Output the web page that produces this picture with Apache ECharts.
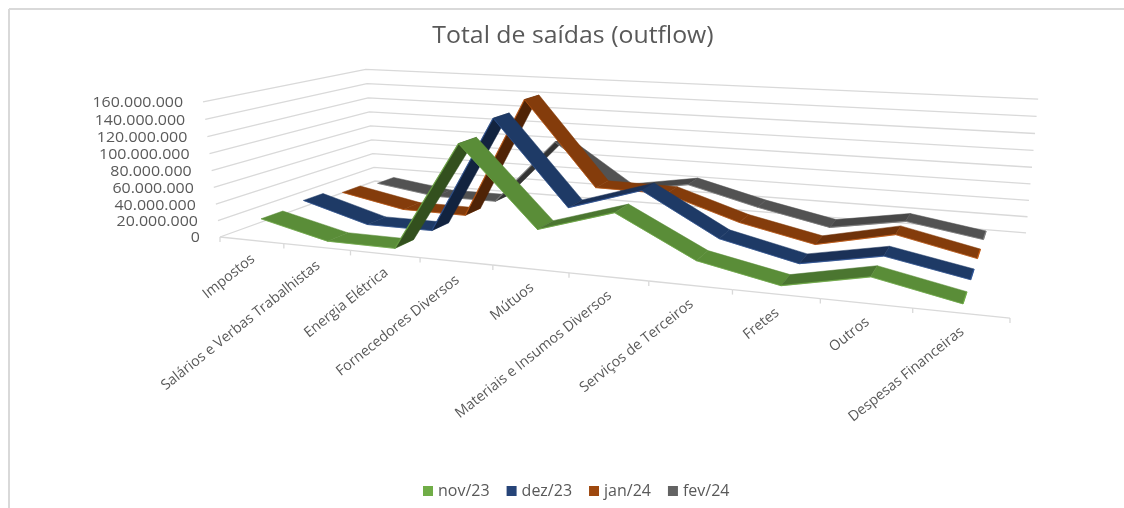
<!DOCTYPE html>
<html>
<head>
<meta charset="utf-8">
<title>Total de saídas (outflow)</title>
<style>
  html, body { margin: 0; padding: 0; background: #fff; }
  #myChart { width: 1124px; height: 508px; }
</style>
<script src="https://cdn.jsdelivr.net/npm/echarts@6/dist/echarts.min.js"></script>
</head>
<body>
<div id="myChart"></div>
<script>
  const categories = ['Impostos', 'Salários e Verbas Trabalhistas', 'Energia Elétrica', 'Fornecedores Diversos', 'Mútuos',
    'Materiais e Insumos Diversos', 'Serviços de Terceiros', 'Fretes', 'Outros', 'Despesas Financeiras']
  const months = ['nov/23', 'dez/23', 'jan/24', 'fev/24']
  const nov23 = [21000000, 1500000, 1000000, 127000000, 38600000, 64500000, 20500000, 2600000, 21000000, 2600000]
  const dez23 = [25000000, 1500000, 1500000, 142000000, 44000000, 70700000, 23000000, 3000000, 20000000, 3000000]
  const jan24 = [17500000, 1600000, 1000000, 152000000, 50000000, 49000000, 21500000, 3000000, 22600000, 3200000]
  const fev24 = [12600000, 1000000, 1000000, 86000000, 29000000, 43000000, 21000000, 3000000, 18000000, 3700000]
  const yTicks = [0, 20000000, 40000000, 60000000, 80000000, 100000000, 120000000, 140000000, 160000000]
  const yTickLabels = ['0', '20.000.000', '40.000.000', '60.000.000', '80.000.000', '100.000.000', '120.000.000', '140.000.000', '160.000.000']

  // top face, gentle rise, underside, bright edge
  const shades = [
    ['#5a8d38', '#4b7630', '#33501e', '#70ad47'],
    ['#1e3a66', '#1b3157', '#12233f', '#2f5597'],
    ['#843c0b', '#6f320a', '#4f2306', '#c55a11'],
    ['#525252', '#484848', '#333333', '#7f7f7f']
  ]
  const legendColors = ['#70ad47', '#264478', '#9e480e', '#636363']
  const textColor = '#595959'
  const lineColor = '#d9d9d9'
  const ribbonHalf = 0.062

  // 3d box to screen: u along categories, d into the page, v up
  function project(u, d, v) {
    const w = 1 - 0.2086 * u + 0.2186 * d - 0.035 * v
    return [
      (220 + 579.3 * u + 237 * d - 24.1 * v) / w,
      (237 + 14.7 * u - 16.4 * d - 138.6 * v) / w
    ]
  }

  // hidden cartesian grid gives the scales, pixels are turned back into 0..1
  function norm(params, pt) {
    const r = params.coordSys
    return [(pt[0] - r.x) / r.width, (r.y + r.height - pt[1]) / r.height]
  }

  function ribbonSeries(name, values, k) {
    const d0 = 0.125 + 0.25 * k - ribbonHalf
    const d1 = 0.125 + 0.25 * k + ribbonHalf
    const c = shades[k]
    return {
      name: name,
      type: 'custom',
      coordinateSystem: 'cartesian2d',
      z: 10 - k,
      silent: true,
      animation: false,
      itemStyle: { color: legendColors[k] },
      encode: { x: 0, y: 1 },
      data: values.map((v, i) => [i, v]),
      renderItem(params, api) {
        const i = params.dataIndex
        const a = norm(params, api.coord([i, values[i]]))
        const children = []
        if (i < values.length - 1) {
          const b = norm(params, api.coord([i + 1, values[i + 1]]))
          const p1 = project(a[0], d0, a[1])
          const p2 = project(b[0], d0, b[1])
          const p3 = project(b[0], d1, b[1])
          const p4 = project(a[0], d1, a[1])
          const slope = (p1[1] - p2[1]) / (p2[0] - p1[0])
          let fill = c[0]
          if (slope > 0.5) fill = c[2]
          else if (slope > 0.03) fill = c[1]
          children.push({
            type: 'polygon',
            shape: { points: [p1, p2, p3, p4] },
            style: { fill: fill, stroke: fill, lineWidth: 0.5 }
          })
          children.push({
            type: 'polyline',
            shape: { points: [p1, p2] },
            style: { fill: null, stroke: c[3], lineWidth: slope > 0.03 ? 1.2 : 0.8, opacity: 0.8 }
          })
        } else {
          children.push({
            type: 'polyline',
            shape: { points: [project(a[0], d0, a[1]), project(a[0], d1, a[1])] },
            style: { fill: null, stroke: c[3], lineWidth: 1.2 }
          })
        }
        return { type: 'group', children: children }
      }
    }
  }

  // gridlines on side and back walls plus the value labels
  const wallSeries = {
    type: 'custom',
    coordinateSystem: 'cartesian2d',
    z: 1,
    silent: true,
    animation: false,
    data: yTicks.map((t, i) => [0, t, i]),
    renderItem(params, api) {
      const i = params.dataIndex
      const v = norm(params, api.coord([0, yTicks[i]]))[1]
      const front = project(0, 0, v)
      return {
        type: 'group',
        children: [
          {
            type: 'polyline',
            shape: { points: [front, project(0, 1, v), project(1, 1, v)] },
            style: { fill: null, stroke: lineColor, lineWidth: 1.3 }
          },
          {
            type: 'text',
            x: front[0] - 20,
            y: front[1] + 1.5,
            scaleX: 1.14,
            style: {
              text: yTickLabels[i],
              fill: textColor,
              font: '14px "Open Sans"',
              align: 'right',
              verticalAlign: 'middle'
            }
          }
        ]
      }
    }
  }

  // front floor edge, tick marks and the slanted category labels
  const floorSeries = {
    type: 'custom',
    coordinateSystem: 'cartesian2d',
    z: 1,
    silent: true,
    animation: false,
    data: categories.map((c, i) => [i, 0]),
    renderItem(params, api) {
      const i = params.dataIndex
      const n = categories.length
      const center = project(norm(params, api.coord([i, 0]))[0], 0, 0)
      const left = project(i / n, 0, 0)
      const right = project((i + 1) / n, 0, 0)
      const children = [
        {
          type: 'polyline',
          shape: { points: [left, right] },
          style: { fill: null, stroke: lineColor, lineWidth: 1.3 }
        },
        {
          type: 'polyline',
          shape: { points: [right, [right[0], right[1] + 5]] },
          style: { fill: null, stroke: lineColor, lineWidth: 1.3 }
        },
        {
          type: 'text',
          x: center[0] + 1.5,
          y: center[1] + 17,
          rotation: 38.5 * Math.PI / 180,
          style: {
            text: categories[i],
            fill: textColor,
            font: '14.3px "Open Sans"',
            align: 'right',
            verticalAlign: 'middle'
          }
        }
      ]
      if (i === 0) {
        children.push({
          type: 'polyline',
          shape: { points: [left, [left[0], left[1] + 5]] },
          style: { fill: null, stroke: lineColor, lineWidth: 1.3 }
        })
      }
      return { type: 'group', children: children }
    }
  }

  const myChart = echarts.init(document.getElementById('myChart'))
  myChart.setOption({
    backgroundColor: '#ffffff',
    animation: false,
    legend: {
      data: months,
      left: 418,
      top: 478,
      icon: 'rect',
      itemWidth: 10,
      itemHeight: 10,
      itemGap: 17,
      selectedMode: false,
      textStyle: { color: textColor, fontFamily: 'Open Sans', fontSize: 16 }
    },
    graphic: [
      { type: 'line', shape: { x1: 9, y1: 9, x2: 1124, y2: 9 }, style: { stroke: lineColor, lineWidth: 2 } },
      { type: 'line', shape: { x1: 9, y1: 9, x2: 9, y2: 508 }, style: { stroke: lineColor, lineWidth: 2 } },
      {
        type: 'text',
        x: 573,
        y: 36,
        scaleX: 1.08,
        style: {
          text: 'Total de saídas (outflow)',
          fill: textColor,
          font: '23px "Open Sans"',
          align: 'center',
          verticalAlign: 'middle'
        }
      }
    ],
    grid: { left: 0, right: 0, top: 0, bottom: 0 },
    xAxis: { type: 'category', data: categories, show: false },
    yAxis: { type: 'value', min: 0, max: 160000000, interval: 20000000, show: false },
    series: [
      wallSeries,
      floorSeries,
      ribbonSeries(months[0], nov23, 0),
      ribbonSeries(months[1], dez23, 1),
      ribbonSeries(months[2], jan24, 2),
      ribbonSeries(months[3], fev24, 3)
    ]
  })
</script>
</body>
</html>
